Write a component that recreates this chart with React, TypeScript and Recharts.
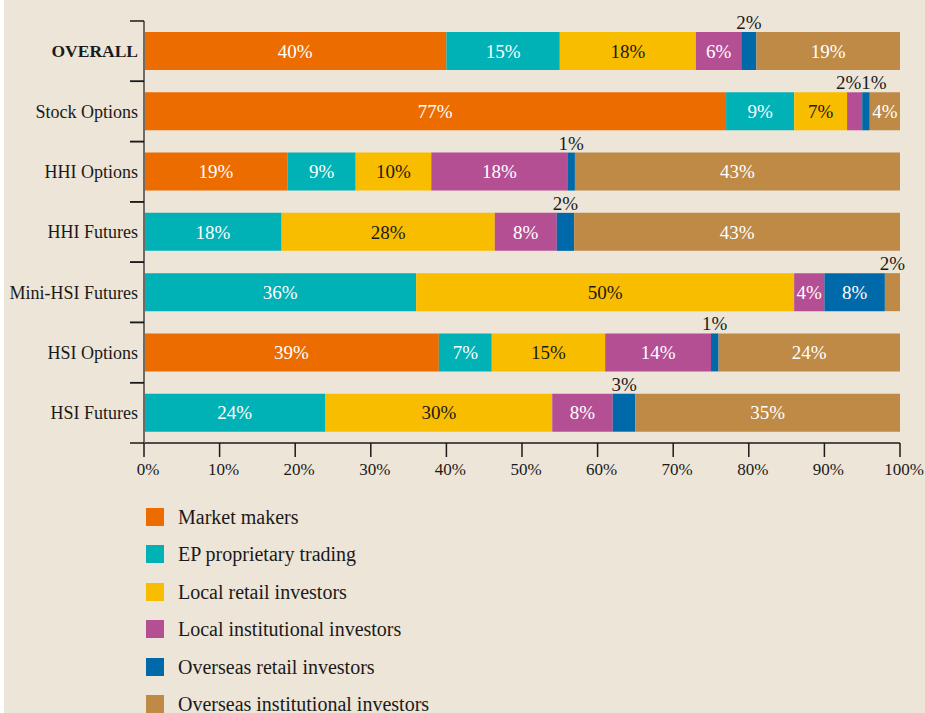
import { BarChart, Bar, XAxis, YAxis, LabelList } from 'recharts'

const categories = ['OVERALL', 'Stock Options', 'HHI Options', 'HHI Futures', 'Mini-HSI Futures', 'HSI Options', 'HSI Futures']
const marketMakers = [40, 77, 19, 0, 0, 39, 0]
const epProprietary = [15, 9, 9, 18.2, 36, 7, 24]
const localRetail = [18, 7, 10, 28.2, 50, 15, 30]
const localInstitutional = [6, 2, 18, 8.2, 4, 14, 8]
const overseasRetail = [2, 1, 1, 2.3, 8, 1, 3]
const overseasInstitutional = [19, 4, 43, 43.1, 2, 24, 35]
const xTicks = [0, 10, 20, 30, 40, 50, 60, 70, 80, 90, 100]

const series = [
  { key: 'mm', name: 'Market makers', values: marketMakers, color: '#ec6c00', text: '#ffffff' },
  { key: 'ep', name: 'EP proprietary trading', values: epProprietary, color: '#00b1b5', text: '#ffffff' },
  { key: 'lr', name: 'Local retail investors', values: localRetail, color: '#f9bd00', text: '#1a1a1a' },
  { key: 'li', name: 'Local institutional investors', values: localInstitutional, color: '#b54f94', text: '#ffffff' },
  { key: 'or', name: 'Overseas retail investors', values: overseasRetail, color: '#0069aa', text: '#ffffff' },
  { key: 'oi', name: 'Overseas institutional investors', values: overseasInstitutional, color: '#be8a46', text: '#ffffff' },
]

const data = categories.map((name, i) => {
  const row: Record<string, string | number> = { name }
  series.forEach(s => { row[s.key] = s.values[i] })
  return row
})

const FONT = '"Liberation Serif", "Times New Roman", serif'
const PLOT_TOP = 21
const PLOT_BOTTOM = 443
const BAND = (PLOT_BOTTOM - PLOT_TOP) / categories.length

const isSmall = (v: number) => v > 0 && Math.round(v) <= 3

function makeLabel(idx: number) {
  const s = series[idx]
  return (props: any) => {
    const { x, y, width, height, value, index } = props
    const v = Number(value)
    if (!v) return null
    const pct = Math.round(v)
    const cx = Number(x) + Number(width) / 2
    if (pct <= 3) {
      const row = data[index]
      const prev = idx > 0 ? Number(row[series[idx - 1].key]) : 0
      const next = idx < series.length - 1 ? Number(row[series[idx + 1].key]) : 0
      let shift = 0
      if (isSmall(next)) shift = -6
      else if (isSmall(prev)) shift = 8
      return (
        <text x={cx + shift} y={Number(y) - 3} textAnchor="middle" fontFamily={FONT} fontSize={19} fill="#1a1a1a">
          {pct}%
        </text>
      )
    }
    return (
      <text x={cx} y={Number(y) + Number(height) / 2} dy="0.35em" textAnchor="middle" fontFamily={FONT} fontSize={19} fill={s.text}>
        {pct}%
      </text>
    )
  }
}

const YTick = (props: any) => {
  const { x, y, payload } = props
  const bold = payload.value === 'OVERALL'
  const ax = Number(x) + 6
  return (
    <g>
      <text x={Number(x)} y={y} dy="0.35em" textAnchor="end" fontFamily={FONT} fontSize={bold ? 17.5 : 18} fontWeight={bold ? 'bold' : 'normal'} fill="#1a1a1a">
        {payload.value}
      </text>
      <line x1={ax - 14} x2={ax} y1={y - BAND / 2} y2={y - BAND / 2} stroke="#1a1a1a" strokeWidth={1.5} />
      <line x1={ax - 14} x2={ax} y1={y + BAND / 2} y2={y + BAND / 2} stroke="#1a1a1a" strokeWidth={1.5} />
    </g>
  )
}

export default function App() {
  return (
    <div style={{ position: 'absolute', left: 0, top: 0, width: 925, height: 713, background: '#ffffff', overflow: 'hidden' }}>
      <div style={{ position: 'absolute', left: 4, top: 0, width: 921, height: 713, background: '#ede5d7' }} />
      <div style={{ position: 'absolute', left: 0, top: 0 }}>
        <BarChart
          width={925}
          height={480}
          data={data}
          layout="vertical"
          margin={{ top: PLOT_TOP, right: 25, left: 0, bottom: 0 }}
        >
          <XAxis
            type="number"
            domain={[0, 100]}
            ticks={xTicks}
            tickFormatter={v => `${v}%`}
            height={480 - PLOT_BOTTOM}
            tickSize={14}
            tickMargin={6}
            axisLine={{ stroke: '#1a1a1a', strokeWidth: 1.5 }}
            tickLine={{ stroke: '#1a1a1a', strokeWidth: 1.5 }}
            tick={{ fontFamily: FONT, fontSize: 17, fill: '#1a1a1a', dx: 4 }}
            interval={0}
          />
          <YAxis
            type="category"
            dataKey="name"
            width={144}
            tickSize={6}
            tickMargin={0}
            tickLine={false}
            axisLine={{ stroke: '#6e6a66', strokeWidth: 2 }}
            tick={<YTick />}
            interval={0}
          />
          {series.map((s, i) => (
            <Bar key={s.key} dataKey={s.key} name={s.name} stackId="a" fill={s.color} barSize={38} isAnimationActive={false}>
              <LabelList dataKey={s.key} content={makeLabel(i)} />
            </Bar>
          ))}
        </BarChart>
      </div>
      <div style={{ position: 'absolute', left: 146, top: 508, fontFamily: FONT, fontSize: 20, color: '#1a1a1a' }}>
        {series.map(s => (
          <div key={s.key} style={{ display: 'flex', alignItems: 'center', height: 18, marginBottom: 19.4 }}>
            <span style={{ width: 18, height: 18, background: s.color, display: 'inline-block', marginRight: 14 }} />
            <span style={{ whiteSpace: 'nowrap', lineHeight: '18px' }}>{s.name}</span>
          </div>
        ))}
      </div>
    </div>
  )
}
